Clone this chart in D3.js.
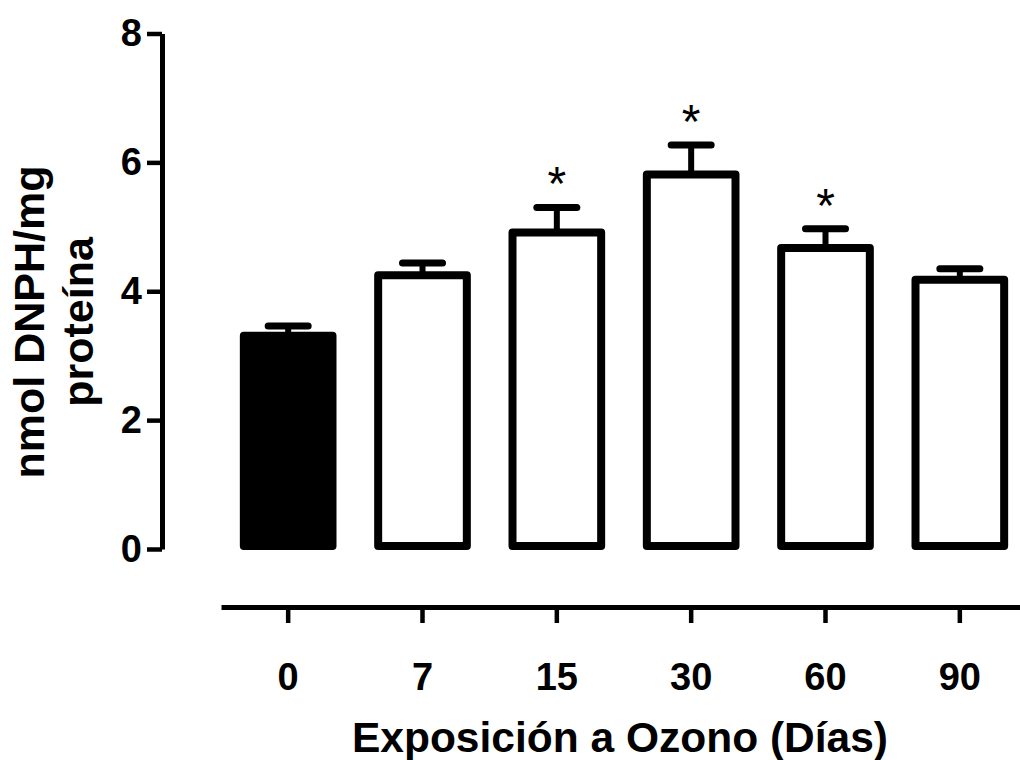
<!DOCTYPE html>
<html>
<head>
<meta charset="utf-8">
<script src="https://cdn.jsdelivr.net/npm/d3@7"></script>
<style>
  body { margin: 0; background: #fff; }
  svg { display: block; font-family: 'Liberation Sans', Arial, Helvetica, sans-serif; }
  .axis text { font-size: 38px; font-weight: bold; fill: #000; }
  .axis path, .axis line { stroke: #000; }
</style>
</head>
<body>
<script>
// values
var days = ['0', '7', '15', '30', '60', '90'];
var means = [3.31, 4.25, 4.91, 5.81, 4.67, 4.18];
var sems = [0.15, 0.19, 0.39, 0.46, 0.30, 0.17];
var significant = [false, false, true, true, true, false];
var yTicks = [0, 2, 4, 6, 8];

var width = 1020, height = 760;

var svg = d3.select('body')
    .append('svg')
    .attr('width', width)
    .attr('height', height)

var x = d3.scaleBand()
    .domain(days)
    .range([221, 1027])
    .padding(0)

var y = d3.scaleLinear()
    .domain([0, 8])
    .range([549, 33.5])

var barWidth = x.bandwidth() * 0.66;
var capWidth = 46;

// y axis
var yAxis = svg.append('g')
    .attr('class', 'axis')
    .attr('transform', 'translate(162,0)')
    .call(d3.axisLeft(y).tickValues(yTicks).tickSize(15).tickSizeOuter(0).tickPadding(5))

yAxis.select('.domain').attr('stroke-width', 5)
yAxis.selectAll('.tick line').attr('stroke-width', 4.5)

// x axis sits apart, below the bars
var xAxis = svg.append('g')
    .attr('class', 'axis')
    .attr('transform', 'translate(0,607)')
    .call(d3.axisBottom(x).tickSize(16).tickSizeOuter(0).tickPadding(40))

xAxis.select('.domain').attr('stroke-width', 5)
xAxis.selectAll('.tick line').attr('stroke-width', 4.5)

var data = days.map(function (d, i) {
    return { day: d, mean: means[i], sem: sems[i], sig: significant[i], i: i }
})

var bars = svg.selectAll('.bar')
    .data(data)
    .enter()
    .append('g')
    .attr('class', 'bar')

bars.append('rect')
    .attr('x', d => x(d.day) + x.bandwidth() / 2 - barWidth / 2)
    .attr('y', d => y(d.mean))
    .attr('width', barWidth)
    .attr('height', d => y(0) - 3 - y(d.mean))
    .attr('fill', d => d.i === 0 ? '#000' : '#fff')
    .attr('stroke', '#000')
    .attr('stroke-width', 8)
    .attr('stroke-linejoin', 'round')

// error bars (upper only)
bars.append('line')
    .attr('x1', d => x(d.day) + x.bandwidth() / 2)
    .attr('x2', d => x(d.day) + x.bandwidth() / 2)
    .attr('y1', d => y(d.mean))
    .attr('y2', d => y(d.mean + d.sem))
    .attr('stroke', '#000')
    .attr('stroke-width', 6)

bars.append('line')
    .attr('x1', d => x(d.day) + x.bandwidth() / 2 - capWidth / 2 + 3)
    .attr('x2', d => x(d.day) + x.bandwidth() / 2 + capWidth / 2 - 3)
    .attr('y1', d => y(d.mean + d.sem))
    .attr('y2', d => y(d.mean + d.sem))
    .attr('stroke', '#000')
    .attr('stroke-width', 7)
    .attr('stroke-linecap', 'round')

// significance marks
bars.filter(d => d.sig)
    .append('text')
    .attr('x', d => x(d.day) + x.bandwidth() / 2)
    .attr('y', d => y(d.mean + d.sem) - 37)
    .attr('dy', '0.62em')
    .attr('text-anchor', 'middle')
    .style('font-size', '48px')
    .text('*')

// axis titles
svg.append('text')
    .attr('x', 620)
    .attr('y', 752)
    .attr('text-anchor', 'middle')
    .style('font-size', '42.5px')
    .style('font-weight', 'bold')
    .text('Exposición a Ozono (Días)')

var yTitle = svg.append('text')
    .attr('transform', 'translate(0,322) rotate(-90)')
    .attr('text-anchor', 'middle')
    .style('font-size', '43px')
    .style('font-weight', 'bold')

yTitle.append('tspan').attr('x', 0).attr('y', 44).text('nmol DNPH/mg')
yTitle.append('tspan').attr('x', 0).attr('y', 93).text('proteína')
</script>
</body>
</html>
